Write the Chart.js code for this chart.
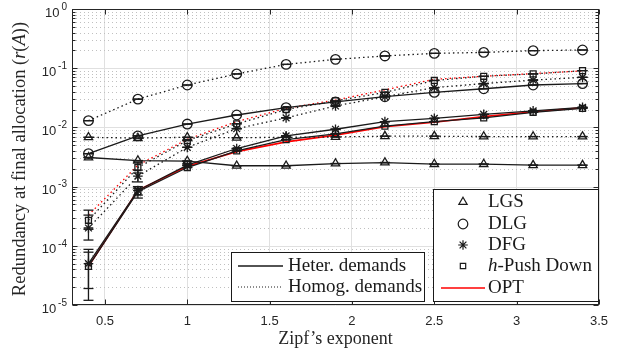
<!DOCTYPE html>
<html>
<head>
<meta charset="utf-8">
<script src="https://cdn.jsdelivr.net/npm/chart.js@4.4.0/dist/chart.umd.min.js"></script>
<style>
  html, body { margin: 0; padding: 0; background: #fff; }
  #wrap { width: 625px; height: 354px; }
</style>
</head>
<body>
<div id="wrap"><canvas id="chart"></canvas></div>
<script>
// Zipf's exponent values on the x axis
const zipf = [0.4, 0.7, 1.0, 1.3, 1.6, 1.9, 2.2, 2.5, 2.8, 3.1, 3.4];
const xTicks = [0.5, 1, 1.5, 2, 2.5, 3, 3.5];
const yExponents = [-5, -4, -3, -2, -1, 0];

// heterogeneous demands (solid) / homogeneous demands (dotted)
const lgsHeter  = [3.1e-3, 2.75e-3, 2.7e-3, 2.25e-3, 2.25e-3, 2.45e-3, 2.55e-3, 2.4e-3, 2.4e-3, 2.3e-3, 2.3e-3];
const lgsHomog  = [6.8e-3, 6.6e-3, 6.8e-3, 6.7e-3, 6.8e-3, 6.9e-3, 7.1e-3, 7.1e-3, 7.0e-3, 7.0e-3, 7.0e-3];
const dlgHeter  = [3.6e-3, 7.2e-3, 1.14e-2, 1.62e-2, 2.15e-2, 2.7e-2, 3.3e-2, 3.9e-2, 4.5e-2, 5.2e-2, 5.5e-2];
const dlgHomog  = [1.3e-2, 3.0e-2, 5.2e-2, 8.0e-2, 1.16e-1, 1.41e-1, 1.61e-1, 1.78e-1, 1.85e-1, 1.98e-1, 2.03e-1];
const dfgHeter  = [5.0e-5, 8.6e-4, 2.3e-3, 4.4e-3, 7.2e-3, 9.3e-3, 1.25e-2, 1.42e-2, 1.66e-2, 1.9e-2, 2.18e-2];
const dfgHomog  = [2.0e-4, 1.5e-3, 4.6e-3, 9.5e-3, 1.45e-2, 2.3e-2, 3.3e-2, 4.7e-2, 5.5e-2, 6.3e-2, 7.0e-2];
const pushHeter = [4.5e-5, 8.2e-4, 2.1e-3, 4.0e-3, 6.2e-3, 7.8e-3, 1.05e-2, 1.25e-2, 1.45e-2, 1.8e-2, 2.1e-2];
const pushHomog = [2.7e-4, 2.1e-3, 6.0e-3, 1.15e-2, 2.0e-2, 2.8e-2, 3.9e-2, 6.2e-2, 7.3e-2, 8.0e-2, 9.1e-2];
const optHeter  = [4.5e-5, 8.6e-4, 2.2e-3, 3.9e-3, 5.7e-3, 7.4e-3, 1.03e-2, 1.22e-2, 1.52e-2, 1.84e-2, 2.15e-2];
const optHomog  = [3.3e-4, 2.3e-3, 6.3e-3, 1.25e-2, 2.1e-2, 2.9e-2, 4.3e-2, 6.5e-2, 7.3e-2, 8.1e-2, 9.0e-2];

// error bar bounds (null = no visible bar)
const N = null;
const pushHeterLo = [1.2e-5, 6.4e-4, N, N, N, N, N, N, N, N, N];
const pushHeterHi = [8.7e-5, 9.4e-4, N, N, N, N, N, N, N, N, N];
const dfgHeterLo  = [1.9e-5, 7.2e-4, N, N, N, N, N, N, N, N, N];
const dfgHeterHi  = [7.8e-5, 1.0e-3, N, N, N, N, N, N, N, N, N];
const pushHomogLo = [1.9e-4, 1.7e-3, N, N, N, N, N, N, N, N, N];
const pushHomogHi = [4.0e-4, 2.6e-3, N, N, N, N, N, N, N, N, N];
const dfgHomogLo  = [1.25e-4, 1.2e-3, N, N, N, N, N, N, N, N, N];
const dfgHomogHi  = [3.3e-4, 1.9e-3, N, N, N, N, N, N, N, N, N];

const INK = '#1a1a1a';
const SERIF = '"Liberation Serif", "DejaVu Serif", serif';
const SANS = '"Liberation Sans", Arial, sans-serif';
const DOT = [1.5, 3];
const LW = 1.3;

function pts(arr) {
  return arr.map((v, i) => ({ x: zipf[i], y: v }));
}

function series(label, values, style, dotted, lo, hi) {
  return {
    label: label,
    data: pts(values),
    borderColor: INK,
    borderWidth: LW,
    borderDash: dotted ? DOT : [],
    pointStyle: style,
    pointRadius: style === 'rect' ? 4.2 : 4.8,
    pointBorderColor: INK,
    pointBackgroundColor: 'rgba(0,0,0,0)',
    pointBorderWidth: LW,
    errLo: lo,
    errHi: hi,
    caps: true
  };
}

const datasets = [
  series('LGS heter', lgsHeter, 'triangle', false),
  series('LGS homog', lgsHomog, 'triangle', true),
  series('DLG heter', dlgHeter, 'circle', false),
  series('DLG homog', dlgHomog, 'circle', true),
  series('DFG heter', dfgHeter, 'star', false, dfgHeterLo, dfgHeterHi),
  series('DFG homog', dfgHomog, 'star', true, dfgHomogLo, dfgHomogHi),
  series('Push heter', pushHeter, 'rect', false, pushHeterLo, pushHeterHi),
  series('Push homog', pushHomog, 'rect', true, pushHomogLo, pushHomogHi),
  {
    label: 'OPT heter', data: pts(optHeter), borderColor: '#ff0000', borderWidth: 1.6,
    pointRadius: 0
  },
  {
    label: 'OPT homog', data: pts(optHomog), borderColor: '#ff0000', borderWidth: 1.3,
    borderDash: DOT, pointRadius: 0
  }
];

function line(ctx, x1, y1, x2, y2) {
  ctx.beginPath();
  ctx.moveTo(x1, y1);
  ctx.lineTo(x2, y2);
  ctx.stroke();
}

// draws a run of text pieces, some italic, starting at x
function richText(ctx, parts, x, y, size) {
  let cx = x;
  parts.forEach(p => {
    ctx.font = (p.italic ? 'italic ' : '') + size + 'px ' + SERIF;
    ctx.fillText(p.t, cx, y);
    cx += ctx.measureText(p.t).width;
  });
  return cx;
}

function richWidth(ctx, parts, size) {
  let w = 0;
  parts.forEach(p => {
    ctx.font = (p.italic ? 'italic ' : '') + size + 'px ' + SERIF;
    w += ctx.measureText(p.t).width;
  });
  return w;
}

const deco = {
  id: 'deco',
  beforeDatasetsDraw(chart) {
    const ctx = chart.ctx;
    const a = chart.chartArea;
    const ys = chart.scales.y;
    ctx.save();
    ctx.lineWidth = 1;
    yExponents.forEach(e => {
      for (let k = 1; k <= 9; k++) {
        const v = k * Math.pow(10, e);
        if (v > 1) break;
        const y = Math.round(ys.getPixelForValue(v)) + 0.5;
        if (k === 1) {
          ctx.strokeStyle = '#e0e0e0';
          ctx.setLineDash([]);
        } else {
          ctx.strokeStyle = '#c0c0c0';
          ctx.setLineDash([1, 3]);
        }
        line(ctx, a.left, y, a.right, y);
      }
    });
    ctx.restore();
  },
  afterDatasetsDraw(chart) {
    const ctx = chart.ctx;
    const a = chart.chartArea;
    const xs = chart.scales.x;
    const ys = chart.scales.y;
    ctx.save();

    // error bars and caps
    ctx.strokeStyle = INK;
    ctx.lineWidth = LW;
    ctx.setLineDash([]);
    chart.data.datasets.forEach(ds => {
      if (!ds.caps) return;
      ds.data.forEach((p, i) => {
        const lo = ds.errLo && ds.errLo[i] != null ? ds.errLo[i] : p.y;
        const hi = ds.errHi && ds.errHi[i] != null ? ds.errHi[i] : p.y;
        const x = xs.getPixelForValue(p.x);
        const yl = ys.getPixelForValue(lo);
        const yh = ys.getPixelForValue(hi);
        line(ctx, x, yl, x, yh);
        line(ctx, x - 5, yl, x + 5, yl);
        line(ctx, x - 5, yh, x + 5, yh);
      });
    });

    // frame and inward ticks
    ctx.strokeStyle = '#262626';
    ctx.lineWidth = 1;
    const L = Math.round(a.left) + 0.5, R = Math.round(a.right) - 0.5;
    const T = Math.round(a.top) + 0.5, B = Math.round(a.bottom) - 0.5;
    ctx.strokeRect(L, T, R - L, B - T);
    xTicks.forEach(v => {
      const x = Math.round(xs.getPixelForValue(v)) + 0.5;
      line(ctx, x, B, x, B - 5);
      line(ctx, x, T, x, T + 5);
    });
    yExponents.forEach(e => {
      for (let k = 1; k <= 9; k++) {
        const v = k * Math.pow(10, e);
        if (v > 1) break;
        const y = Math.round(ys.getPixelForValue(v)) + 0.5;
        const len = k === 1 ? 5 : 3;
        line(ctx, L, y, L + len, y);
        line(ctx, R, y, R - len, y);
      }
    });

    // y tick labels 10^e
    ctx.fillStyle = '#262626';
    ctx.textBaseline = 'middle';
    ctx.textAlign = 'right';
    yExponents.forEach(e => {
      const y = ys.getPixelForValue(Math.pow(10, e));
      ctx.font = '10px ' + SANS;
      const ex = e === 0 ? '0' : '-' + (-e);
      const ew = ctx.measureText(ex).width;
      ctx.fillText(ex, 67, y - 2);
      ctx.font = '13px ' + SANS;
      ctx.fillText('10', 67 - ew - 2, y + 4);
    });

    // axis titles
    ctx.fillStyle = '#262626';
    ctx.textAlign = 'left';
    ctx.textBaseline = 'middle';
    const yTitle = [
      { t: 'Redundancy at final allocation (' }, { t: 'r', italic: true },
      { t: '(' }, { t: 'A', italic: true }, { t: '))' }
    ];
    ctx.save();
    ctx.translate(20, 159);
    ctx.rotate(-Math.PI / 2);
    const tw = richWidth(ctx, yTitle, 18.5);
    richText(ctx, yTitle, -tw / 2, 0, 18.5);
    ctx.restore();
    ctx.textAlign = 'center';
    ctx.font = '18px ' + SERIF;
    ctx.fillText('Zipf\u2019s exponent', (a.left + a.right) / 2, 339);

    // legend 1: line styles
    ctx.fillStyle = '#fff';
    ctx.fillRect(231, 252, 193, 49);
    ctx.strokeStyle = INK;
    ctx.lineWidth = 1;
    ctx.strokeRect(231.5, 252.5, 193, 49);
    ctx.lineWidth = LW;
    line(ctx, 238, 266, 283, 266);
    ctx.lineWidth = 1;
    ctx.setLineDash([1, 2]);
    line(ctx, 238, 287, 283, 287);
    ctx.setLineDash([]);
    ctx.fillStyle = INK;
    ctx.textAlign = 'left';
    ctx.font = '19px ' + SERIF;
    ctx.fillText('Heter. demands', 288, 266);
    ctx.fillText('Homog. demands', 288, 287);

    // legend 2: algorithms
    ctx.fillStyle = '#fff';
    ctx.fillRect(433, 189, 166, 112);
    ctx.strokeStyle = INK;
    ctx.lineWidth = 1;
    ctx.strokeRect(433.5, 189.5, 165, 112);
    const marks = [['triangle', 'LGS', 202], ['circle', 'DLG', 224], ['star', 'DFG', 245], ['rect', null, 266]];
    marks.forEach(m => {
      ctx.strokeStyle = INK;
      ctx.fillStyle = 'rgba(0,0,0,0)';
      ctx.lineWidth = 1.2;
      Chart.helpers.drawPoint(ctx, {
        pointStyle: m[0], radius: m[0] === 'rect' ? 3.8 : 4.8, rotation: 0, borderWidth: 1.2
      }, 463, m[2]);
      ctx.fillStyle = INK;
      if (m[1]) {
        ctx.font = '19px ' + SERIF;
        ctx.fillText(m[1], 488, m[2]);
      }
    });
    richText(ctx, [{ t: 'h', italic: true }, { t: '-Push Down' }], 488, 266, 19);
    ctx.strokeStyle = '#ff0000';
    ctx.lineWidth = 1.3;
    line(ctx, 441, 288, 485, 288);
    ctx.font = '19px ' + SERIF;
    ctx.fillText('OPT', 488, 288);

    ctx.restore();
  }
};

const ctx = document.getElementById('chart').getContext('2d');
const chart = new Chart(ctx, {
  type: 'line',
  data: { datasets: datasets },
  plugins: [deco],
  options: {
    responsive: true,
    maintainAspectRatio: false,
    animation: false,
    layout: { padding: { top: 9, right: 26, left: 0, bottom: 0 } },
    plugins: {
      legend: { display: false },
      tooltip: { enabled: false }
    },
    elements: { line: { tension: 0 } },
    scales: {
      x: {
        type: 'linear',
        min: 0.3,
        max: 3.5,
        afterBuildTicks: s => { s.ticks = xTicks.map(v => ({ value: v })); },
        afterFit: s => { s.height = 49; },
        border: { display: false },
        grid: { color: '#e0e0e0', drawTicks: false },
        ticks: {
          padding: 9,
          color: '#262626',
          font: { family: SANS, size: 13 },
          callback: v => String(v)
        }
      },
      y: {
        type: 'logarithmic',
        min: 1e-5,
        max: 1,
        afterFit: s => { s.width = 72; },
        border: { display: false },
        grid: { display: false },
        ticks: { display: false }
      }
    }
  }
});
</script>
</body>
</html>
